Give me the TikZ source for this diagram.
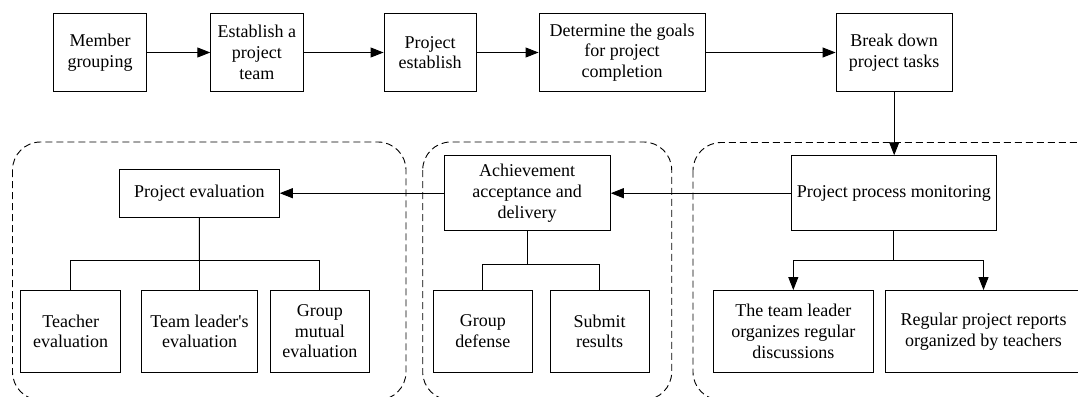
\documentclass[tikz,border=0pt]{standalone}
\usepackage{fontspec}
\setmainfont{Liberation Serif}
\newfontfamily\tnrfont{Liberation Serif}
\usetikzlibrary{arrows.meta}
\begin{document}
\begin{tikzpicture}[x=1pt,y=-1pt,
  box/.style={draw, line width=0.9pt, align=center, inner sep=0pt,
    font=\tnrfont\fontsize{18}{20.7}\selectfont},
  ln/.style={line width=0.9pt},
  arr/.style={line width=0.9pt, -{Triangle[length=13pt,width=10pt]}},
  grp/.style={draw, line width=0.9pt, dash pattern=on 7pt off 4pt, rounded corners=28pt}
]
\useasboundingbox (0,0) rectangle (1078,396);
\clip (0,0) rectangle (1078,396);

% dashed groups
\draw[grp] (12.5,142) rectangle (406,400);
\draw[grp] (422.7,142) rectangle (671.7,400);
\draw[grp] (693,142.5) rectangle (1105,400);

% top row
\node[box, minimum width=92.6pt, minimum height=77.5pt] (m1) at (100,52.5) {Member\\grouping};
\node[box, minimum width=92.3pt, minimum height=77.5pt] (m2) at (256.9,52.5) {Establish a\\project\\team};
\node[box, minimum width=92.2pt, minimum height=77.5pt] (m3) at (430.1,52.5) {Project\\establish};
\node[box, minimum width=166pt, minimum height=77.5pt] (m4) at (622,52.5) {Determine the goals\\for project\\completion};
\node[box, minimum width=116.3pt, minimum height=77.5pt] (m5) at (894.2,52.5) {Break down\\project tasks};

% middle row
\node[box, minimum width=160pt, minimum height=48.3pt] (pe) at (199.3,193.2) {Project evaluation};
\node[box, minimum width=166.3pt, minimum height=75pt] (ach) at (527.2,193.2) {Achievement\\acceptance and\\delivery};
\node[box, minimum width=205.3pt, minimum height=75pt] (mon) at (893.8,193.2) {Project process monitoring};

% bottom row
\node[box, minimum width=100pt, minimum height=81.8pt] (te) at (70.7,331.4) {Teacher\\evaluation};
\node[box, minimum width=115.6pt, minimum height=81.8pt] (tl) at (199.5,331.4) {Team leader\textquotesingle s\\evaluation};
\node[box, minimum width=99pt, minimum height=81.8pt] (gm) at (319.8,331.4) {Group\\mutual\\evaluation};
\node[box, minimum width=99pt, minimum height=81.8pt] (gd) at (482.8,331.4) {Group\\defense};
\node[box, minimum width=99pt, minimum height=81.8pt] (sr) at (599.5,331.4) {Submit\\results};
\node[box, minimum width=160pt, minimum height=81.8pt] (tld) at (793.3,331.4) {The team leader\\organizes regular\\discussions};
\node[box, minimum width=196.4pt, minimum height=81.8pt] (rpr) at (983.5,331.4) {Regular project reports\\organized by teachers};

% top flow
\draw[arr] (m1.east) -- (m2.west);
\draw[arr] (m2.east) -- (m3.west);
\draw[arr] (m3.east) -- (m4.west);
\draw[arr] (m4.east) -- (m5.west);
\draw[arr] (m5.south) -- (m5.south |- mon.north);
\draw[arr] (mon.west) -- (ach.east);
\draw[arr] (ach.west) -- (pe.east);

% trees
\coordinate (pej) at (199.4,260);
\draw[ln] (pe.south) -- (pej);
\draw[ln] (pej) -| (te.north);
\draw[ln] (pej) -| (gm.north);
\draw[ln] (pej) -- (pej |- tl.north);

\coordinate (achj) at (527.2,264.3);
\draw[ln] (ach.south) -- (achj);
\draw[ln] (achj) -| (gd.north);
\draw[ln] (achj) -| (sr.north);

\coordinate (monj) at (893.8,260.7);
\draw[ln] (mon.south) -- (monj);
\draw[arr] (monj) -| (tld.north);
\draw[arr] (monj) -| (rpr.north);
\end{tikzpicture}
\end{document}
